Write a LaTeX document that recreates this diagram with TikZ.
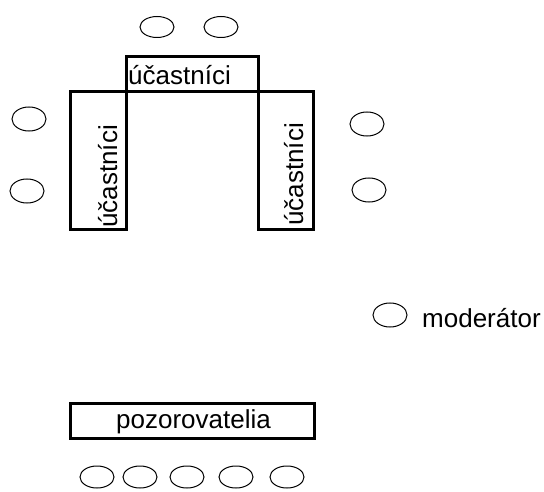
\documentclass[tikz,border=0pt]{standalone}
\usepackage{fontspec}
\setmainfont{Liberation Sans}
\usetikzlibrary{shapes.geometric}

\begin{document}
\begin{tikzpicture}[x=1pt,y=-1pt,
  seat/.style={draw,ellipse,line width=1pt,inner sep=0pt,minimum width=34pt,minimum height=24pt},
  desk/.style={draw,rectangle,line width=3pt,inner sep=0pt},
  lbl/.style={inner sep=0pt,font=\fontsize{26}{30}\selectfont}]
\fill[white] (0,0) rectangle (544,492);
\useasboundingbox (0,0) rectangle (544,492);
\node[desk,minimum width=132pt,minimum height=35.5pt] (top) at (192,74.25) {};
\node[desk,minimum width=55.5pt,minimum height=138pt] (left) at (98.25,161) {};
\node[desk,minimum width=55.5pt,minimum height=138pt] (right) at (285.75,161) {};
\node[desk,minimum width=244pt,minimum height=35pt] (obs) at (192,421) {};
\node[lbl,anchor=base west] (toplbl) at (128,85) {účastníci};
\node[lbl,anchor=base west,rotate=90] (leftlbl) at (117,228) {účastníci};
\node[lbl,anchor=base west,rotate=90] (rightlbl) at (303,226) {účastníci};
\node[lbl,anchor=base west] (obslbl) at (116,428) {pozorovatelia};
\node[seat,minimum height=21pt] (t1) at (157,27) {};
\node[seat,minimum height=21pt] (t2) at (221,27) {};
\node[seat] (l1) at (29,119) {};
\node[seat] (l2) at (27,191) {};
\node[seat] (r1) at (367,124) {};
\node[seat] (r2) at (369,190) {};
\node[seat] (mod) at (390,315) {};
\node[lbl,anchor=base west] (modlbl) at (422,327) {moderátor};
\foreach \x [count=\i] in {97,140,187,236,287}
  \node[seat,minimum height=22pt] (b\i) at (\x,477) {};
\end{tikzpicture}
\end{document}
